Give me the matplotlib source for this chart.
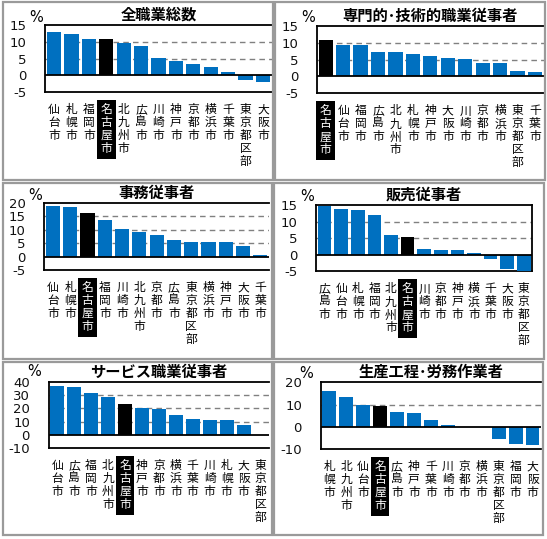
import matplotlib
matplotlib.use("Agg")
import matplotlib.pyplot as plt
from matplotlib.patches import Rectangle

plt.rcParams['font.family'] = ['Noto Sans CJK JP', 'DejaVu Sans']

W, H = 547, 539
DPI = 100

# ---------------- data ----------------
titles = ["全職業総数", "専門的･技術的職業従事者", "事務従事者",
          "販売従事者", "サービス職業従事者", "生産工程･労務作業者"]

cats1 = ["仙台市", "札幌市", "福岡市", "名古屋市", "北九州市", "広島市", "川崎市",
         "神戸市", "京都市", "横浜市", "千葉市", "東京都区部", "大阪市"]
vals1 = [12.8, 12.4, 10.9, 10.9, 9.5, 8.6, 5.2, 4.2, 3.3, 2.4, 1.0, -1.3, -1.9]

cats2 = ["名古屋市", "仙台市", "福岡市", "広島市", "北九州市", "札幌市", "神戸市",
         "大阪市", "川崎市", "京都市", "横浜市", "東京都区部", "千葉市"]
vals2 = [10.9, 9.3, 9.3, 7.4, 7.2, 6.6, 6.2, 5.4, 5.1, 4.0, 4.0, 1.6, 1.3]

cats3 = ["仙台市", "札幌市", "名古屋市", "福岡市", "川崎市", "北九州市", "京都市",
         "広島市", "東京都区部", "横浜市", "神戸市", "大阪市", "千葉市"]
vals3 = [19.0, 18.5, 16.4, 13.7, 10.4, 9.0, 8.2, 6.1, 5.6, 5.6, 5.3, 3.8, 0.5]

cats4 = ["広島市", "仙台市", "札幌市", "福岡市", "北九州市", "名古屋市", "川崎市",
         "京都市", "神戸市", "横浜市", "千葉市", "大阪市", "東京都区部"]
vals4 = [14.9, 14.0, 13.7, 12.2, 6.1, 5.5, 1.7, 1.4, 1.4, 0.4, -1.3, -4.3, -5.0]

cats5 = ["仙台市", "広島市", "福岡市", "北九州市", "名古屋市", "神戸市", "京都市",
         "横浜市", "千葉市", "川崎市", "札幌市", "大阪市", "東京都区部"]
vals5 = [37.2, 36.2, 32.0, 28.7, 23.7, 20.0, 19.2, 15.2, 12.2, 11.5, 11.5, 7.7, 0.0]

cats6 = ["札幌市", "北九州市", "仙台市", "名古屋市", "広島市", "神戸市", "千葉市",
         "川崎市", "京都市", "横浜市", "東京都区部", "福岡市", "大阪市"]
vals6 = [16.3, 13.2, 9.6, 9.2, 6.5, 6.1, 3.0, 0.7, 0.0, 0.0, -5.5, -7.7, -8.1]

yticks1 = [-5, 0, 5, 10, 15]
yticks2 = [-5, 0, 5, 10, 15]
yticks3 = [-5, 0, 5, 10, 15, 20]
yticks4 = [-5, 0, 5, 10, 15]
yticks5 = [-10, 0, 10, 20, 30, 40]
yticks6 = [-10, 0, 10, 20]

HIGHLIGHT = "名古屋市"
BLUE = "#0070C0"

# ---------------- layout (pixels) ----------------
panels = [(3, 2, 273, 180), (275, 2, 545, 180),
          (3, 183, 272, 359), (274, 183, 544, 359),
          (3, 362, 272, 535), (274, 362, 543, 535)]
plots = [(45.3, 25, 271.7, 92), (317, 26, 543.7, 93.3),
         (44.3, 203, 269, 270), (316.3, 205.3, 532, 271.3),
         (48.7, 382, 269, 448), (320.7, 382.3, 541, 449)]
pct_off = [(-9, 8), (-9, 8), (-9, 8), (-9.5, 9), (-15, 10), (-15, 9)]
right_spine = [False, False, False, True, False, False]

fig = plt.figure(figsize=(W / DPI, H / DPI), dpi=DPI)
fig.patch.set_facecolor("white")

for (l, t, r, b) in panels:
    fig.patches.append(Rectangle((l / W, 1 - b / H), (r - l) / W, (b - t) / H,
                                 transform=fig.transFigure, fill=False,
                                 edgecolor="#9a9a9a", linewidth=1.6))

all_cats = [cats1, cats2, cats3, cats4, cats5, cats6]
all_vals = [vals1, vals2, vals3, vals4, vals5, vals6]
all_ticks = [yticks1, yticks2, yticks3, yticks4, yticks5, yticks6]

for i in range(6):
    l, t, r, b = plots[i]
    ax = fig.add_axes([l / W, 1 - b / H, (r - l) / W, (b - t) / H])
    cats, vals, ticks = all_cats[i], all_vals[i], all_ticks[i]
    x = list(range(len(cats)))
    colors = ["black" if c == HIGHLIGHT else BLUE for c in cats]
    ax.bar(x, vals, width=0.82, color=colors, zorder=3)
    ax.set_xlim(-0.5, len(cats) - 0.5)
    ax.set_ylim(ticks[0], ticks[-1])
    ax.set_yticks(ticks)
    ax.set_yticklabels([str(v) for v in ticks], fontsize=9.5,
                       family=["DejaVu Sans"], color="#111111")
    for g in ticks[1:-1]:
        if g == 0:
            ax.axhline(0, color="black", linewidth=1.3, zorder=4)
        else:
            ax.axhline(g, color="#808080", linewidth=1.0,
                       linestyle=(0, (4, 3)), zorder=1)
    ax.set_xticks(x)
    ax.set_xticklabels(["\n".join(c) for c in cats], fontsize=8.5,
                       linespacing=1.0)
    ax.tick_params(axis="x", length=0, pad=8)
    ax.tick_params(axis="y", length=0, pad=13.5)
    for lab, c in zip(ax.get_xticklabels(), cats):
        if c == HIGHLIGHT:
            lab.set_color("white")
            lab.set_bbox(dict(facecolor="black", edgecolor="none", pad=2.5))
    for s in ["top", "bottom", "left"]:
        ax.spines[s].set_linewidth(1.3)
        ax.spines[s].set_color("black")
    ax.spines["right"].set_visible(right_spine[i])
    ax.spines["right"].set_linewidth(1.3)
    ax.set_title(titles[i], fontsize=11, fontweight="bold", pad=4)
    ax.annotate("%", xy=(0, 1), xycoords="axes fraction",
                xytext=pct_off[i], textcoords="offset pixels",
                ha="center", va="center", fontsize=10.5,
                family=["DejaVu Sans"])

fig.savefig("out.png", dpi=DPI)
